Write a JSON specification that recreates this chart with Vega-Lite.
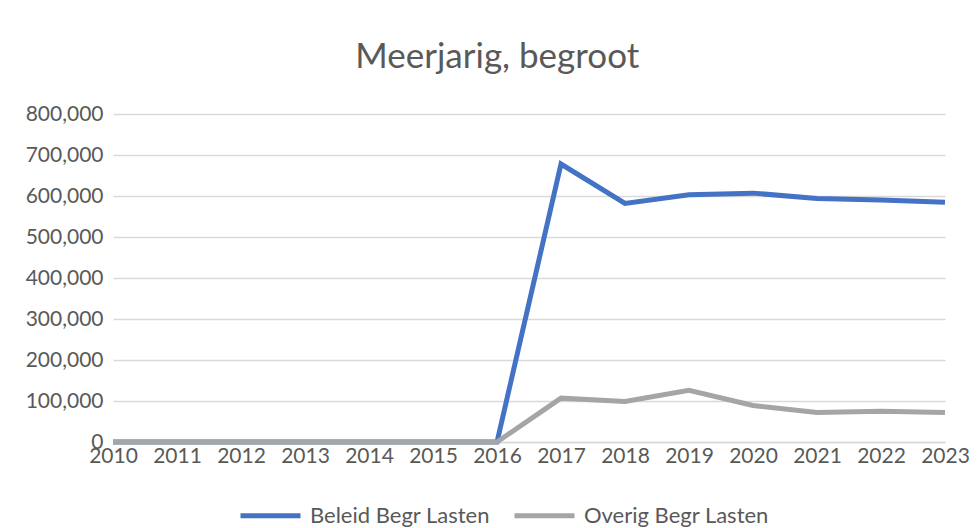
{
  "$schema": "https://vega.github.io/schema/vega-lite/v6.json",
  "width": 832,
  "height": 328,
  "autosize": "none",
  "padding": {"left": 113, "top": 114, "right": 33, "bottom": 86},
  "background": "white",
  "title": {
    "text": "Meerjarig, begroot",
    "fontSize": 35,
    "font": "Lato",
    "fontWeight": "normal",
    "color": "#595959",
    "anchor": "middle",
    "frame": "bounds",
    "offset": 28
  },
  "data": {
    "values": [
      {"year": "2010", "series": "Beleid Begr Lasten", "value": 0},
      {"year": "2011", "series": "Beleid Begr Lasten", "value": 0},
      {"year": "2012", "series": "Beleid Begr Lasten", "value": 0},
      {"year": "2013", "series": "Beleid Begr Lasten", "value": 0},
      {"year": "2014", "series": "Beleid Begr Lasten", "value": 0},
      {"year": "2015", "series": "Beleid Begr Lasten", "value": 0},
      {"year": "2016", "series": "Beleid Begr Lasten", "value": 0},
      {"year": "2017", "series": "Beleid Begr Lasten", "value": 678000},
      {"year": "2018", "series": "Beleid Begr Lasten", "value": 582000},
      {"year": "2019", "series": "Beleid Begr Lasten", "value": 603000},
      {"year": "2020", "series": "Beleid Begr Lasten", "value": 607000},
      {"year": "2021", "series": "Beleid Begr Lasten", "value": 594000},
      {"year": "2022", "series": "Beleid Begr Lasten", "value": 590000},
      {"year": "2023", "series": "Beleid Begr Lasten", "value": 585000},
      {"year": "2010", "series": "Overig Begr Lasten", "value": 0},
      {"year": "2011", "series": "Overig Begr Lasten", "value": 0},
      {"year": "2012", "series": "Overig Begr Lasten", "value": 0},
      {"year": "2013", "series": "Overig Begr Lasten", "value": 0},
      {"year": "2014", "series": "Overig Begr Lasten", "value": 0},
      {"year": "2015", "series": "Overig Begr Lasten", "value": 0},
      {"year": "2016", "series": "Overig Begr Lasten", "value": 0},
      {"year": "2017", "series": "Overig Begr Lasten", "value": 107000},
      {"year": "2018", "series": "Overig Begr Lasten", "value": 99000},
      {"year": "2019", "series": "Overig Begr Lasten", "value": 126000},
      {"year": "2020", "series": "Overig Begr Lasten", "value": 89000},
      {"year": "2021", "series": "Overig Begr Lasten", "value": 72000},
      {"year": "2022", "series": "Overig Begr Lasten", "value": 75000},
      {"year": "2023", "series": "Overig Begr Lasten", "value": 72000}
    ]
  },
  "mark": {"type": "line", "strokeWidth": 5, "strokeJoin": "miter", "strokeCap": "butt"},
  "encoding": {
    "x": {
      "field": "year",
      "type": "ordinal",
      "scale": {"type": "point", "padding": 0},
      "axis": {
        "title": null,
        "labelAngle": 0,
        "ticks": false,
        "domain": true,
        "domainColor": "#D9D9D9",
        "domainWidth": 1.5,
        "grid": false,
        "labelFont": "Lato",
        "labelFontSize": 21,
        "labelColor": "#595959",
        "labelPadding": 3
      }
    },
    "y": {
      "field": "value",
      "type": "quantitative",
      "scale": {"domain": [0, 800000], "nice": false},
      "axis": {
        "title": null,
        "values": [0, 100000, 200000, 300000, 400000, 500000, 600000, 700000, 800000],
        "format": ",.0f",
        "ticks": false,
        "domain": false,
        "gridColor": "#D9D9D9",
        "gridWidth": 1.5,
        "labelFont": "Lato",
        "labelFontSize": 21,
        "labelColor": "#595959",
        "labelPadding": 10
      }
    },
    "color": {
      "field": "series",
      "type": "nominal",
      "scale": {"domain": ["Beleid Begr Lasten", "Overig Begr Lasten"], "range": ["#4472C4", "#A5A5A5"]},
      "legend": {
        "title": null,
        "orient": "none",
        "legendX": 125,
        "legendY": 369,
        "direction": "horizontal",
        "symbolType": "stroke",
        "symbolSize": 3600,
        "symbolStrokeWidth": 5,
        "labelFont": "Lato",
        "labelFontSize": 22,
        "labelColor": "#595959",
        "labelLimit": 400,
        "columnPadding": 14,
        "labelOffset": 7
      }
    }
  },
  "config": {
    "view": {"stroke": null}
  }
}
